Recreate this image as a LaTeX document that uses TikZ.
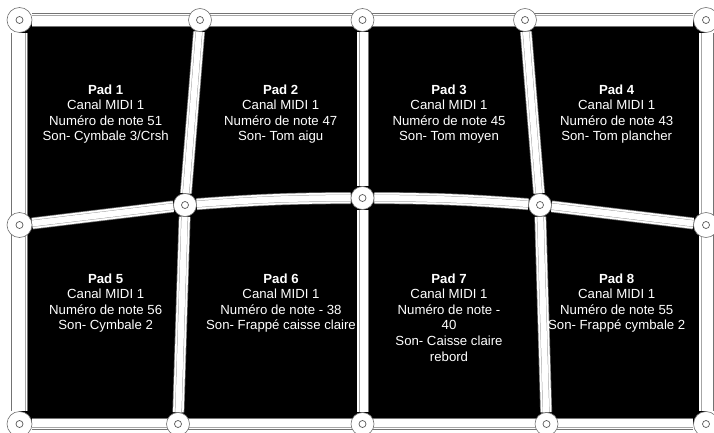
\documentclass[tikz,border=0pt]{standalone}
\usepackage{fontspec}
\setmainfont{Liberation Sans}
\usetikzlibrary{backgrounds}

\tikzset{
	joint/.style={circle, draw=black!55, fill=white, line width=0.6pt, minimum size=#1, inner sep=0pt},
	hub/.style={circle, draw=black!65, fill=white, line width=0.7pt, minimum size=7pt, inner sep=0pt},
	bar/.style={draw=black!55, line width=#1, postaction={draw=white, line width=#1-1.4pt}, postaction={draw=black!35, line width=#1-5pt}, postaction={draw=white, line width=#1-6pt}},
	padtext/.style={text=white, align=center, anchor=north, font=\fontsize{13.2}{15.6}\selectfont},
}

\begin{document}
\begin{tikzpicture}[x=1pt, y=-1pt]
	\useasboundingbox (0,0) rectangle (714,433);
	% hinges of the frame
	\foreach \n/\x/\y/\s in {a1/19.5/20/25pt, a2/200/20/23pt, a3/362.5/20/23pt, a4/525/20/23pt, a5/706/20/25pt,
		b1/19.5/225/25pt, b2/185/205/23pt, b3/362.5/198/23pt, b4/540/205/23pt, b5/706/225/25pt,
		c1/19.5/424/25pt, c2/178/424/23pt, c3/362.5/424/23pt, c4/546.5/424/23pt, c5/706/424/25pt} {
		\node[joint=\s] (\n) at (\x,\y) {};
		\node[hub] (h\n) at (\n) {};
	}
	\begin{scope}[on background layer]
		\fill[black] (a1) rectangle (c5);
		% outer frame
		\draw[bar=14pt] (a1) -- (a5);
		\draw[bar=12pt] (c1) -- (c5);
		\draw[bar=17pt] (a1) -- (c1);
		\draw[bar=15pt] (a5) -- (c5);
		% inner bars
		\draw[bar=12pt] (a2) -- (b2);
		\draw[bar=12pt] (b2) -- (c2);
		\draw[bar=12pt] (a3) -- (b3);
		\draw[bar=12pt] (b3) -- (c3);
		\draw[bar=12pt] (a4) -- (b4);
		\draw[bar=12pt] (b4) -- (c4);
		\draw[bar=12pt] (b1) -- (b2);
		\draw[bar=12pt] (b2) to[bend left=2] (b3);
		\draw[bar=12pt] (b3) to[bend left=2] (b4);
		\draw[bar=12pt] (b4) -- (b5);
	\end{scope}
	% labels of the pads
	\node[padtext] (pad1) at (105.7,81) {\textbf{Pad 1}\\Canal MIDI 1\\Numéro de note 51\\Son- Cymbale 3/Crsh};
	\node[padtext] (pad2) at (280.7,81) {\textbf{Pad 2}\\Canal MIDI 1\\Numéro de note 47\\Son- Tom aigu};
	\node[padtext] (pad3) at (449,81) {\textbf{Pad 3}\\Canal MIDI 1\\Numéro de note 45\\Son- Tom moyen};
	\node[padtext] (pad4) at (616.7,81) {\textbf{Pad 4}\\Canal MIDI 1\\Numéro de note 43\\Son- Tom plancher};
	\node[padtext] (pad5) at (105.7,270) {\textbf{Pad 5}\\Canal MIDI 1\\Numéro de note 56\\Son- Cymbale 2};
	\node[padtext] (pad6) at (281,270) {\textbf{Pad 6}\\Canal MIDI 1\\Numéro de note - 38\\Son- Frappé caisse claire};
	\node[padtext] (pad7) at (449,270) {\textbf{Pad 7}\\Canal MIDI 1\\Numéro de note -\\40\\Son- Caisse claire\\rebord};
	\node[padtext] (pad8) at (616.7,270) {\textbf{Pad 8}\\Canal MIDI 1\\Numéro de note 55\\Son- Frappé cymbale 2};
\end{tikzpicture}
\end{document}
